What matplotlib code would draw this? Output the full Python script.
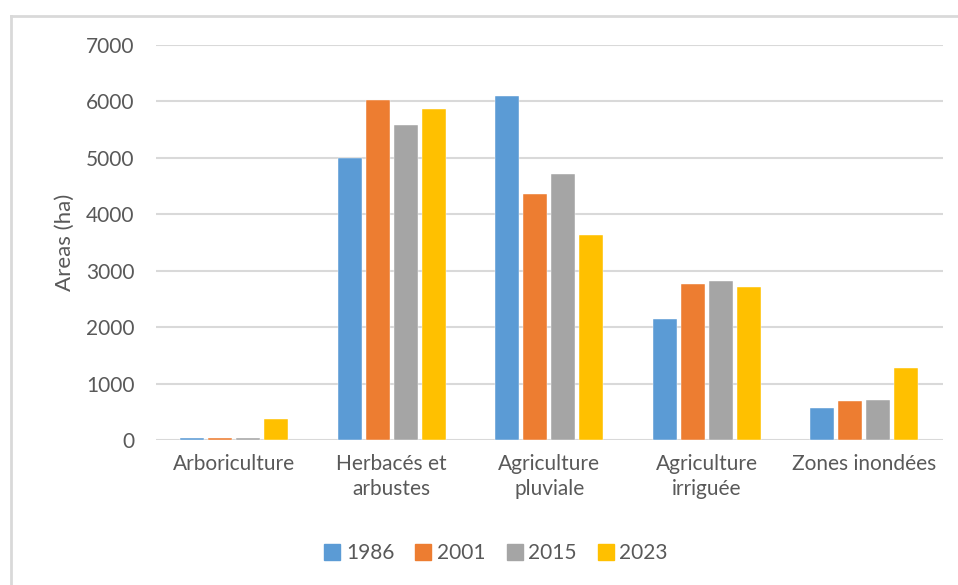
import matplotlib

matplotlib.use("Agg")
import matplotlib.pyplot as plt  # noqa: E402
import numpy as np  # noqa: E402
from matplotlib.lines import Line2D  # noqa: E402

categories = ["Arboriculture", "Herbacés et\narbustes", "Agriculture\npluviale",
              "Agriculture\nirriguée", "Zones inondées"]
years = ["1986", "2001", "2015", "2023"]
v1986 = [40, 5000, 6100, 2150, 560]
v2001 = [40, 6020, 4360, 2770, 685]
v2015 = [35, 5590, 4720, 2820, 705]
v2023 = [375, 5870, 3630, 2710, 1270]
colors = ["#5B9BD5", "#ED7D31", "#A5A5A5", "#FFC000"]
yticks = [0, 1000, 2000, 3000, 4000, 5000, 6000, 7000]

TXT = "#595959"
plt.rcParams["font.family"] = ["Lato", "DejaVu Sans"]

fig = plt.figure(figsize=(9.58, 5.85), dpi=100)
ax = fig.add_axes([155.5 / 958, 1 - 440 / 585, (943 - 155.5) / 958, (440 - 45) / 585])

x = np.arange(len(categories))
step, width = 0.178, 0.152
for i, (vals, c) in enumerate(zip([v1986, v2001, v2015, v2023], colors)):
    ax.bar(x + (i - 1.5) * step, vals, width, color=c, edgecolor="white",
           linewidth=0.3, label=years[i], zorder=3)

ax.set_xlim(-0.5, len(categories) - 0.5)
ax.set_ylim(0, 7000)
ax.set_yticks(yticks)
ax.set_xticks(x)
ax.set_xticklabels(categories, fontsize=15, color=TXT, linespacing=1.3)
ax.tick_params(axis="y", labelsize=15, labelcolor=TXT, length=0, pad=15)
ax.tick_params(axis="x", length=0, pad=10)
ax.grid(axis="y", color="#D9D9D9", linewidth=1.5, zorder=0)
for s in ax.spines.values():
    s.set_visible(False)
ax.set_ylabel("Areas (ha)", fontsize=16, color=TXT, labelpad=8)

handles = [Line2D([], [], marker="s", linestyle="", markersize=11,
                  markerfacecolor=c, markeredgecolor=c) for c in colors]
fig.legend(handles, years, loc="center", bbox_to_anchor=(497 / 958, 1 - 553 / 585),
           ncol=4, frameon=False, fontsize=15, labelcolor=TXT,
           handletextpad=0.35, columnspacing=1.1, handlelength=0.6)

# outer chart frame
fig.add_artist(Line2D([11 / 958, 11 / 958], [0, 1 - 16 / 585], transform=fig.transFigure,
                      color="#D9D9D9", linewidth=2))
fig.add_artist(Line2D([11 / 958, 1], [1 - 16 / 585, 1 - 16 / 585], transform=fig.transFigure,
                      color="#D9D9D9", linewidth=2))

fig.savefig("out.png", dpi=100, facecolor="white")
